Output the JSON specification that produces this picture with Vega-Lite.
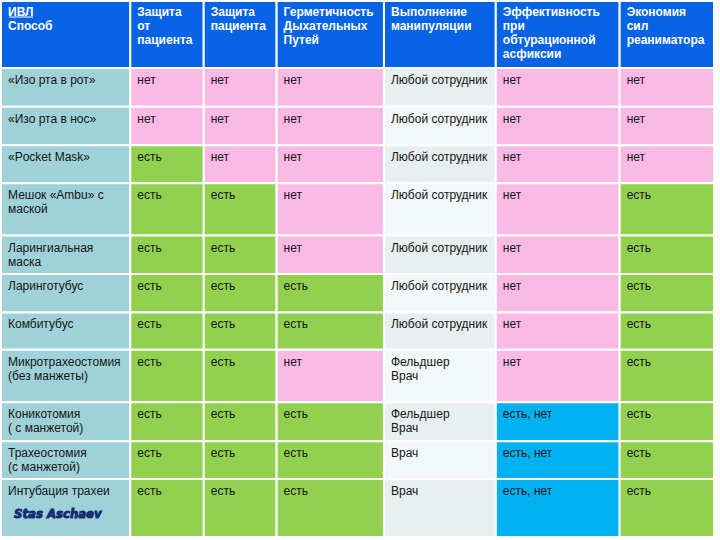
{
  "$schema": "https://vega.github.io/schema/vega-lite/v6.json",
  "width": 720,
  "height": 540,
  "autosize": {"type": "fit", "contains": "padding"},
  "padding": 0,
  "background": "white",
  "config": {"view": {"stroke": null}},
  "datasets": {
    "cols": [
      {"c": 0, "x0": 0, "x1": 129.5},
      {"c": 1, "x0": 129.5, "x1": 203},
      {"c": 2, "x0": 203, "x1": 276},
      {"c": 3, "x0": 276, "x1": 383.5},
      {"c": 4, "x0": 383.5, "x1": 495.5},
      {"c": 5, "x0": 495.5, "x1": 619.5},
      {"c": 6, "x0": 619.5, "x1": 714}
    ],
    "rows": [
      {"r": 0, "y0": 0, "y1": 67},
      {"r": 1, "y0": 67, "y1": 106},
      {"r": 2, "y0": 106, "y1": 144.5},
      {"r": 3, "y0": 144.5, "y1": 182.5},
      {"r": 4, "y0": 182.5, "y1": 235},
      {"r": 5, "y0": 235, "y1": 273.5},
      {"r": 6, "y0": 273.5, "y1": 312},
      {"r": 7, "y0": 312, "y1": 349.5},
      {"r": 8, "y0": 349.5, "y1": 402},
      {"r": 9, "y0": 402, "y1": 441},
      {"r": 10, "y0": 441, "y1": 479},
      {"r": 11, "y0": 479, "y1": 537}
    ],
    "cells": [
      {"r": 0, "c": 0, "text": "ИВЛ\nСпособ", "kind": "header"},
      {"r": 0, "c": 1, "text": "Защита\nот\nпациента", "kind": "header"},
      {"r": 0, "c": 2, "text": "Защита\nпациента", "kind": "header"},
      {"r": 0, "c": 3, "text": "Герметичность\nДыхательных\nПутей", "kind": "header"},
      {"r": 0, "c": 4, "text": "Выполнение\nманипуляции", "kind": "header"},
      {"r": 0, "c": 5, "text": "Эффективность\nпри\nобтурационной\nасфиксии", "kind": "header"},
      {"r": 0, "c": 6, "text": "Экономия\nсил\nреаниматора", "kind": "header"},

      {"r": 1, "c": 0, "text": "«Изо рта в рот»", "kind": "method"},
      {"r": 1, "c": 1, "text": "нет", "kind": "нет"},
      {"r": 1, "c": 2, "text": "нет", "kind": "нет"},
      {"r": 1, "c": 3, "text": "нет", "kind": "нет"},
      {"r": 1, "c": 4, "text": "Любой сотрудник", "kind": "staff"},
      {"r": 1, "c": 5, "text": "нет", "kind": "нет"},
      {"r": 1, "c": 6, "text": "нет", "kind": "нет"},

      {"r": 2, "c": 0, "text": "«Изо рта в нос»", "kind": "method"},
      {"r": 2, "c": 1, "text": "нет", "kind": "нет"},
      {"r": 2, "c": 2, "text": "нет", "kind": "нет"},
      {"r": 2, "c": 3, "text": "нет", "kind": "нет"},
      {"r": 2, "c": 4, "text": "Любой сотрудник", "kind": "staff"},
      {"r": 2, "c": 5, "text": "нет", "kind": "нет"},
      {"r": 2, "c": 6, "text": "нет", "kind": "нет"},

      {"r": 3, "c": 0, "text": "«Pocket Mask»", "kind": "method"},
      {"r": 3, "c": 1, "text": "есть", "kind": "есть"},
      {"r": 3, "c": 2, "text": "нет", "kind": "нет"},
      {"r": 3, "c": 3, "text": "нет", "kind": "нет"},
      {"r": 3, "c": 4, "text": "Любой сотрудник", "kind": "staff"},
      {"r": 3, "c": 5, "text": "нет", "kind": "нет"},
      {"r": 3, "c": 6, "text": "нет", "kind": "нет"},

      {"r": 4, "c": 0, "text": "Мешок  «Ambu» с\nмаской", "kind": "method"},
      {"r": 4, "c": 1, "text": "есть", "kind": "есть"},
      {"r": 4, "c": 2, "text": "есть", "kind": "есть"},
      {"r": 4, "c": 3, "text": "нет", "kind": "нет"},
      {"r": 4, "c": 4, "text": "Любой сотрудник", "kind": "staff"},
      {"r": 4, "c": 5, "text": "нет", "kind": "нет"},
      {"r": 4, "c": 6, "text": "есть", "kind": "есть"},

      {"r": 5, "c": 0, "text": "Ларингиальная\nмаска", "kind": "method"},
      {"r": 5, "c": 1, "text": "есть", "kind": "есть"},
      {"r": 5, "c": 2, "text": "есть", "kind": "есть"},
      {"r": 5, "c": 3, "text": "нет", "kind": "нет"},
      {"r": 5, "c": 4, "text": "Любой сотрудник", "kind": "staff"},
      {"r": 5, "c": 5, "text": "нет", "kind": "нет"},
      {"r": 5, "c": 6, "text": "есть", "kind": "есть"},

      {"r": 6, "c": 0, "text": "Ларинготубус", "kind": "method"},
      {"r": 6, "c": 1, "text": "есть", "kind": "есть"},
      {"r": 6, "c": 2, "text": "есть", "kind": "есть"},
      {"r": 6, "c": 3, "text": "есть", "kind": "есть"},
      {"r": 6, "c": 4, "text": "Любой сотрудник", "kind": "staff"},
      {"r": 6, "c": 5, "text": "нет", "kind": "нет"},
      {"r": 6, "c": 6, "text": "есть", "kind": "есть"},

      {"r": 7, "c": 0, "text": "Комбитубус", "kind": "method"},
      {"r": 7, "c": 1, "text": "есть", "kind": "есть"},
      {"r": 7, "c": 2, "text": "есть", "kind": "есть"},
      {"r": 7, "c": 3, "text": "есть", "kind": "есть"},
      {"r": 7, "c": 4, "text": "Любой сотрудник", "kind": "staff"},
      {"r": 7, "c": 5, "text": "нет", "kind": "нет"},
      {"r": 7, "c": 6, "text": "есть", "kind": "есть"},

      {"r": 8, "c": 0, "text": "Микротрахеостомия\n(без манжеты)", "kind": "method"},
      {"r": 8, "c": 1, "text": "есть", "kind": "есть"},
      {"r": 8, "c": 2, "text": "есть", "kind": "есть"},
      {"r": 8, "c": 3, "text": "нет", "kind": "нет"},
      {"r": 8, "c": 4, "text": "Фельдшер\nВрач", "kind": "staff"},
      {"r": 8, "c": 5, "text": "нет", "kind": "нет"},
      {"r": 8, "c": 6, "text": "есть", "kind": "есть"},

      {"r": 9, "c": 0, "text": "Коникотомия\n( с манжетой)", "kind": "method"},
      {"r": 9, "c": 1, "text": "есть", "kind": "есть"},
      {"r": 9, "c": 2, "text": "есть", "kind": "есть"},
      {"r": 9, "c": 3, "text": "есть", "kind": "есть"},
      {"r": 9, "c": 4, "text": "Фельдшер\nВрач", "kind": "staff"},
      {"r": 9, "c": 5, "text": "есть, нет", "kind": "есть, нет"},
      {"r": 9, "c": 6, "text": "есть", "kind": "есть"},

      {"r": 10, "c": 0, "text": "Трахеостомия\n(с манжетой)", "kind": "method"},
      {"r": 10, "c": 1, "text": "есть", "kind": "есть"},
      {"r": 10, "c": 2, "text": "есть", "kind": "есть"},
      {"r": 10, "c": 3, "text": "есть", "kind": "есть"},
      {"r": 10, "c": 4, "text": "Врач", "kind": "staff"},
      {"r": 10, "c": 5, "text": "есть, нет", "kind": "есть, нет"},
      {"r": 10, "c": 6, "text": "есть", "kind": "есть"},

      {"r": 11, "c": 0, "text": "Интубация трахеи", "kind": "method"},
      {"r": 11, "c": 1, "text": "есть", "kind": "есть"},
      {"r": 11, "c": 2, "text": "есть", "kind": "есть"},
      {"r": 11, "c": 3, "text": "есть", "kind": "есть"},
      {"r": 11, "c": 4, "text": "Врач", "kind": "staff"},
      {"r": 11, "c": 5, "text": "есть, нет", "kind": "есть, нет"},
      {"r": 11, "c": 6, "text": "есть", "kind": "есть"},

      {"r": 11, "c": 0, "text": "Stas Aschaev", "kind": "signature"}
    ]
  },
  "data": {"name": "cells"},
  "transform": [
    {"lookup": "c", "from": {"data": {"name": "cols"}, "key": "c", "fields": ["x0", "x1"]}},
    {"lookup": "r", "from": {"data": {"name": "rows"}, "key": "r", "fields": ["y0", "y1"]}},
    {"calculate": "datum.kind == 'staff' ? (datum.r % 2 == 1 ? 'staffA' : 'staffB') : datum.kind", "as": "band"}
  ],
  "encoding": {
    "x": {"field": "x0", "type": "quantitative", "scale": {"domain": [0, 720], "nice": false, "zero": false}, "axis": null},
    "y": {"field": "y0", "type": "quantitative", "scale": {"domain": [0, 540], "reverse": true, "nice": false, "zero": false}, "axis": null}
  },
  "layer": [
    {
      "transform": [{"filter": "datum.kind != 'signature'"}],
      "mark": {"type": "rect", "stroke": "white", "strokeWidth": 2},
      "encoding": {
        "x2": {"field": "x1"},
        "y2": {"field": "y1"},
        "fill": {
          "field": "band",
          "type": "nominal",
          "scale": {
            "domain": ["header", "method", "staffA", "staffB", "нет", "есть", "есть, нет"],
            "range": ["#0763E5", "#9FD2D8", "#E7EFF1", "#F2F7F9", "#FBB9E6", "#92D050", "#00B0F0"]
          },
          "legend": null
        }
      }
    },
    {
      "transform": [{"filter": "datum.kind == 'header'"}],
      "mark": {"type": "text", "align": "left", "baseline": "top", "dx": 7, "dy": 6, "font": "Liberation Sans", "fontSize": 12, "fontWeight": "bold", "lineHeight": 14, "lineBreak": "\n", "color": "white"},
      "encoding": {"text": {"field": "text"}}
    },
    {
      "transform": [{"filter": "datum.kind == 'header' && datum.c == 0"}],
      "mark": {"type": "rule", "color": "white", "strokeWidth": 1, "xOffset": 8, "x2Offset": 32, "yOffset": 16},
      "encoding": {"x2": {"field": "x0"}}
    },
    {
      "transform": [{"filter": "datum.kind != 'header' && datum.kind != 'signature'"}],
      "mark": {"type": "text", "align": "left", "baseline": "top", "dx": 7, "dy": 7, "font": "Liberation Sans", "fontSize": 12, "lineHeight": 14, "lineBreak": "\n", "color": "#151515"},
      "encoding": {"text": {"field": "text"}}
    },
    {
      "transform": [{"filter": "datum.kind == 'signature'"}],
      "mark": {"type": "text", "align": "left", "baseline": "middle", "dx": 13, "dy": 35, "font": "DejaVu Sans Condensed", "fontSize": 13, "fontWeight": "bold", "fontStyle": "italic", "color": "#152A74", "stroke": "#152A74", "strokeWidth": 0.9},
      "encoding": {"text": {"field": "text"}}
    }
  ]
}
